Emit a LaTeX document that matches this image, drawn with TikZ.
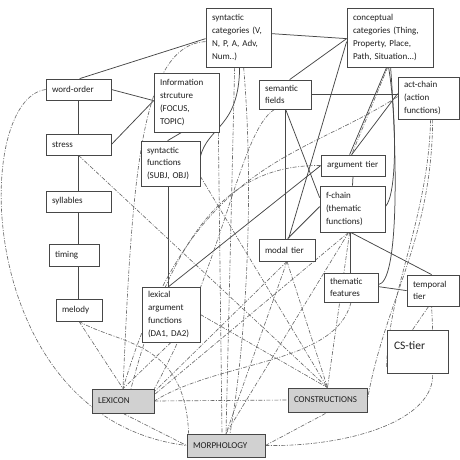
\documentclass[tikz,border=0pt]{standalone}
\usepackage{fontspec}
\setmainfont{Carlito}
\usetikzlibrary{calc,backgrounds}
\begin{document}
\begin{tikzpicture}[x=1pt,y=-1pt,
  box/.style={draw=black!72, line width=0.75pt, fill=white, inner xsep=6pt, inner ysep=0pt, align=left, font=\fontsize{9}{12.8}\selectfont, text=black!88},
  gbox/.style={box, fill=black!18},
  sl/.style={draw=black!72, line width=0.75pt},
  dl/.style={draw=black!58, line width=0.65pt, dash pattern=on 4pt off 1.5pt on 1pt off 1.5pt}]
\useasboundingbox (0,0) rectangle (460,460);
% nodes
\node[box, minimum width=65pt, minimum height=59pt, text width=53pt] (syncat) at (238.5,37.5) {syntactic\\categories (V,\\N, P, A, Adv,\\Num..)};
\node[box, minimum width=86pt, minimum height=59pt, text width=74pt] (concat) at (390,37.5) {conceptual\\categories (Thing,\\Property, Place,\\Path, Situation...)};
\node[box, minimum width=65pt, minimum height=21pt, text width=53pt] (wordorder) at (78.5,89.5) {word-order};
\node[box, minimum width=65pt, minimum height=59pt, text width=53pt] (info) at (186.5,102.5) {Information\\strcuture\\(FOCUS,\\TOPIC)};
\node[box, minimum width=65pt, minimum height=21pt, text width=53pt] (stress) at (78.5,144.5) {stress};
\node[box, minimum width=59pt, minimum height=45pt, text width=47pt] (synfun) at (170.5,163.5) {syntactic\\functions\\(SUBJ, OBJ)};
\node[box, minimum width=65pt, minimum height=21pt, text width=53pt] (syllables) at (78.5,201.5) {syllables};
\node[box, minimum width=50pt, minimum height=22pt, text width=38pt] (timing) at (74,255) {timing};
\node[box, minimum width=46pt, minimum height=22pt, text width=34pt] (melody) at (79,310) {melody};
\node[box, minimum width=58pt, minimum height=55pt, text width=46pt] (lexarg) at (171,314.5) {lexical\\argument\\functions\\(DA1, DA2)};
\node[gbox, minimum width=62pt, minimum height=24pt, text width=50pt] (lexicon) at (123,401) {LEXICON};
\node[gbox, minimum width=78pt, minimum height=23pt, text width=66pt] (morph) at (226,445.5) {MORPHOLOGY};
\node[gbox, minimum width=79pt, minimum height=24pt, text width=67pt] (constr) at (327.5,400) {CONSTRUCTIONS};
\node[box, minimum width=52pt, minimum height=29pt, text width=40pt] (semfields) at (285,94.5) {semantic\\fields};
\node[box, minimum width=61pt, minimum height=42pt, text width=49pt] (actchain) at (428.5,98) {act-chain\\(action\\functions)};
\node[box, minimum width=64pt, minimum height=21pt, text width=52pt] (argtier) at (353,165.5) {argument tier};
\node[box, minimum width=65pt, minimum height=46pt, text width=53pt] (fchain) at (352.5,209) {f-chain\\(thematic\\functions)};
\node[box, minimum width=56pt, minimum height=22pt, text width=44pt] (modal) at (287,250) {modal tier};
\node[box, minimum width=54pt, minimum height=29pt, text width=42pt] (thematic) at (351,287.5) {thematic\\features};
\node[box, minimum width=52pt, minimum height=31pt, text width=40pt] (temporal) at (433,290.5) {temporal\\tier};
\node[box, minimum width=61pt, minimum height=43pt, text width=47pt, inner xsep=7pt, font=\fontsize{11.5}{13}\selectfont] (cstier) at (417.5,351.5) {\raisebox{12pt}{CS-tier}};
\begin{scope}[on background layer]
% solid connectors
\draw[sl] ($(syncat.north west)+(0,31)$) -- ($(wordorder.north west)+(34,0)$);
\draw[sl] ($(syncat.north east)+(0,26)$) -- ($(concat.north west)+(0,31)$);
\draw[sl] (wordorder.east) -- ($(info.north west)+(0,28)$);
\draw[sl] (stress.east) -- ($(info.north west)+(0,28)$);
\draw[sl] (wordorder.south) -- (stress.north);
\draw[sl] (stress.south) -- (syllables.north);
\draw[sl] (syllables.south) -- (syllables.south |- timing.north);
\draw[sl] (syllables.south |- timing.south) -- (syllables.south |- melody.north);
\draw[sl] ($(info.south west)+(28,0)$) -- ($(synfun.north west)+(27,0)$);
\draw[sl] ($(syncat.south west)+(34,0)$) .. controls (239,128) and (208,126) .. ($(synfun.north east)+(0,16)$);
\draw[sl] ($(synfun.south west)+(28,0)$) -- ($(lexarg.north west)+(27,0)$);
\draw[sl] ($(lexarg.north west)+(27,0)$) -- ($(argtier.north west)+(0,11)$);
\draw[sl] (semfields.east) -- (semfields.east -| actchain.west);
\draw[sl] ($(concat.north west)+(0,31)$) -- ($(semfields.north west)+(31,0)$);
\draw[sl] ($(concat.north west)+(0,34)$) -- ($(modal.north west)+(30,0)$);
\draw[sl] ($(semfields.south west)+(27,0)$) -- ($(modal.north west)+(27,0)$);
\draw[sl] ($(semfields.south west)+(27,0)$) -- ($(fchain.north west)+(0,12)$);
\draw[sl] ($(fchain.north west)+(0,21)$) -- ($(modal.north west)+(29,0)$);
\draw[sl] ($(concat.south west)+(40,0)$) -- ($(argtier.north west)+(29,0)$);
\draw[sl] ($(actchain.north west)+(0,17)$) -- ($(argtier.north west)+(31,0)$);
\draw[sl] ($(concat.south west)+(42,0)$) .. controls (397,120) and (397,195) .. ($(fchain.north east)+(0,21)$);
\draw[sl] ($(concat.south west)+(44,0)$) .. controls (398,170) and (398,282) .. ($(thematic.north east)+(0,12)$);
\draw[sl] (argtier.south) -- (fchain.north);
\draw[sl] ($(fchain.south west)+(31,0)$) -- ($(thematic.north west)+(27,0)$);
\draw[sl] ($(fchain.south west)+(31,0)$) -- ($(temporal.north west)+(25,0)$);
\draw[sl] ($(thematic.north east)+(0,14)$) -- ($(temporal.north west)+(0,16)$);
% dash-dot connectors
\draw[dl] (wordorder.west) .. controls (-30,100) and (-25,420) .. (morph.west);
\draw[dl] ($(syncat.north west)+(0,34)$) .. controls (140,45) and (132,180) .. (lexicon.north);
\draw[dl] (stress.south) -- (constr.north);
\draw[dl] (melody.south) -- (lexicon.north);
\draw[dl] (melody.south) .. controls (120,345) and (185,340) .. ($(morph.north west)+(2,0)$);
\draw[dl] (lexicon.south) -- (morph.west);
\draw[dl] (lexicon.east) -- (constr.west);
\draw[dl] (morph.east) -- (constr.south);
\draw[dl] (morph.east) .. controls (350,447) and (435,420) .. ($(cstier.south west)+(46,0)$);
\draw[dl] ($(cstier.north west)+(26,0)$) -- ($(temporal.south west)+(22,0)$);
\draw[dl] ($(cstier.north west)+(46,0)$) -- ($(temporal.south west)+(25,0)$);
\draw[dl] ($(actchain.south west)+(33,0)$) .. controls (428,220) and (388,290) .. ($(cstier.south west)+(0,-6)$);
\draw[dl] ($(actchain.south west)+(35,0)$) .. controls (432,240) and (385,300) .. (constr.east);
\draw[dl] (thematic.south) .. controls (335,365) and (220,360) .. (lexicon.east);
\draw[dl] ($(fchain.south west)+(29,0)$) -- ($(lexicon.north east)+(0,6)$);
\draw[dl] ($(fchain.south west)+(29,0)$) -- (morph.north);
\draw[dl] ($(fchain.south west)+(30,0)$) -- (constr.north);
\draw[dl] (modal.south) -- (constr.north);
\draw[dl] (modal.south) -- ($(lexicon.north east)+(0,3)$);
\draw[dl] (modal.south) -- (morph.north);
\draw[dl] (lexarg.east) -- (constr.north);
\draw[dl] (lexarg.south) -- (lexicon.north);
\draw[dl] ($(info.south east)+(-1,0)$) -- ($(morph.north)+(-4,0)$);
\draw[dl] ($(syncat.south west)+(29,0)$) -- (morph.north);
\draw[dl] ($(syncat.south west)+(38,0)$) .. controls (255,200) and (245,350) .. ($(morph.north)+(4,0)$);
\draw[dl] ($(semfields.south west)+(16,0)$) .. controls (240,130) and (225,260) .. (lexicon.north east);
\draw[dl] ($(actchain.north west)+(0,20)$) .. controls (300,160) and (190,160) .. (lexicon.north);
\draw[dl] (argtier.west) .. controls (250,165) and (180,200) .. ($(lexicon.north)+(8,0)$);
\draw[dl] ($(concat.south west)+(41,0)$) -- ($(argtier.north west)+(31,0)$);
\draw[dl] ($(synfun.south east)+(0,-10)$) -- (constr.north);
\end{scope}
\end{tikzpicture}
\end{document}
